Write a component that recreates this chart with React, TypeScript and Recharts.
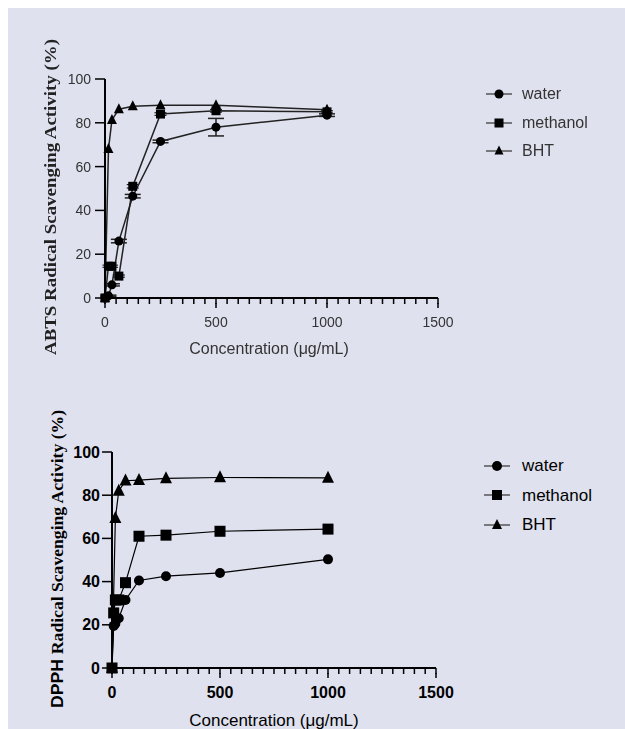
import React from 'react';
import { LineChart, Line, XAxis, YAxis, Legend, ErrorBar } from 'recharts';

// ---------- data ----------
const X_MAJOR = [0, 500, 1000, 1500];
const X_TICKS = [0, 50, 100, 150, 200, 250, 300, 350, 400, 450, 500, 550, 600, 650, 700, 750, 800, 850, 900, 950, 1000, 1050, 1100, 1150, 1200, 1250, 1300, 1350, 1400, 1450, 1500];
const Y_TICKS = [0, 20, 40, 60, 80, 100];
const SERIES_NAMES = ['water', 'methanol', 'BHT'];

// ABTS
const abtsConc = [0, 15.6, 31.25, 62.5, 125, 250, 500, 1000];
const abtsWater = [0, 1, 6, 26, 46.5, 71.5, 78, 83.5];
const abtsWaterErr = [0, 0.3, 0.5, 0.8, 0.8, 0.6, 4, 0.6];
const abtsMethanol = [0, 14.5, 14.5, 10, 51, 84, 85.5, 85];
const abtsMethanolErr = [0, 0.5, 0.5, 0.5, 0.8, 0.6, 0.6, 0.5];
const abtsBHT = [0, 68, 81.3, 86.2, 87.6, 88, 88, 86];

// DPPH
const dpphConc = [0, 7.8, 15.6, 31.25, 62.5, 125, 250, 500, 1000];
const dpphWater = [0, 19.5, 20.5, 23, 31.5, 40.5, 42.5, 44, 50.3];
const dpphMethanol = [0, 25.5, 31.5, 31.5, 39.5, 61, 61.5, 63.3, 64.3];
const dpphBHTConc = [0, 15.6, 31.25, 62.5, 125, 250, 500, 1000];
const dpphBHT = [0, 69.3, 82, 86.7, 87, 87.8, 88.2, 88];

const toRows = (xs: number[], ys: number[], errs?: number[]) =>
  xs.map((x, i) => (errs ? { x, y: ys[i], err: errs[i] } : { x, y: ys[i] }));

const abtsWaterData = toRows(abtsConc, abtsWater, abtsWaterErr);
const abtsMethanolData = toRows(abtsConc, abtsMethanol, abtsMethanolErr);
const abtsBHTData = toRows(abtsConc, abtsBHT);
const dpphWaterData = toRows(dpphConc, dpphWater);
const dpphMethanolData = toRows(dpphConc, dpphMethanol);
const dpphBHTData = toRows(dpphBHTConc, dpphBHT);

// ---------- markers ----------
const circleDot = (r: number) => (p: any) => {
  const { cx, cy, index } = p;
  if (cx == null || cy == null) return <g key={`c${index}`} />;
  return <circle key={`c${index}`} cx={cx} cy={cy} r={r} fill="#000" />;
};
const squareDot = (s: number) => (p: any) => {
  const { cx, cy, index } = p;
  if (cx == null || cy == null) return <g key={`s${index}`} />;
  return <rect key={`s${index}`} x={cx - s / 2} y={cy - s / 2} width={s} height={s} fill="#000" />;
};
const triDot = (s: number) => (p: any) => {
  const { cx, cy, index } = p;
  if (cx == null || cy == null) return <g key={`t${index}`} />;
  return (
    <polygon
      key={`t${index}`}
      points={`${cx},${cy - s * 0.6} ${cx - s / 2},${cy + s * 0.4} ${cx + s / 2},${cy + s * 0.4}`}
      fill="#000"
    />
  );
};

const MarkerIcon = ({ kind, size, lineColor }: { kind: number; size: number; lineColor: string }) => (
  <svg width={26} height={14} style={{ display: 'block' }}>
    <line x1={0} x2={26} y1={7} y2={7} stroke={lineColor} strokeWidth={1.5} />
    {kind === 0 && <circle cx={13} cy={7} r={size / 2} fill="#000" />}
    {kind === 1 && <rect x={13 - size / 2} y={7 - size / 2} width={size} height={size} fill="#000" />}
    {kind === 2 && (
      <polygon
        points={`13,${7 - size * 0.6} ${13 - size / 2},${7 + size * 0.4} ${13 + size / 2},${7 + size * 0.4}`}
        fill="#000"
      />
    )}
  </svg>
);

const makeLegend = (fontSize: number, color: string, rowH: number, gap: number, size: number) => () => (
  <div style={{ fontFamily: 'Liberation Sans, Arial, sans-serif' }}>
    {SERIES_NAMES.map((n, i) => (
      <div key={n} style={{ display: 'flex', alignItems: 'center', height: rowH }}>
        <MarkerIcon kind={i} size={size} lineColor="#555" />
        <span style={{ marginLeft: gap, fontSize, color, lineHeight: 1 }}>{n}</span>
      </div>
    ))}
  </div>
);

// tick lines of 6px come from the axis; majors get 4px more here, plus the label
const makeXTick = (labelDy: number, fontSize: number, fill: string, weight: string) => (p: any) => {
  const { x, y, payload } = p;
  const v = payload.value;
  const major = X_MAJOR.includes(v);
  if (!major) return <g />;
  return (
    <g>
      <line x1={x} x2={x} y1={y - 1} y2={y + 4} stroke="#000" strokeWidth={1.5} />
      <text
        x={x}
        y={y + labelDy}
        textAnchor="middle"
        dominantBaseline="central"
        fontSize={fontSize}
        fill={fill}
        fontWeight={weight}
        fontFamily="Liberation Sans, Arial, sans-serif"
      >
        {v}
      </text>
    </g>
  );
};

export default function App() {
  return (
    <div style={{ position: 'fixed', left: 8, top: 8, right: 0, bottom: 0, minWidth: 617, minHeight: 721, background: '#dfe1ee', overflow: 'hidden' }}>
      {/* ABTS chart */}
      <div style={{ position: 'absolute', left: 0, top: 0, filter: 'blur(0.4px)' }}>
        <LineChart width={617} height={360} margin={{ top: 71, right: 187, bottom: 0, left: 0 }}>
          <XAxis
            type="number"
            dataKey="x"
            domain={[0, 1500]}
            ticks={X_TICKS}
            interval={0}
            height={70}
            axisLine={{ stroke: '#000', strokeWidth: 2 }}
            tickLine={{ stroke: '#000', strokeWidth: 1.5 }}
            tickSize={6}
            tickMargin={0}
            tick={makeXTick(18, 14, '#333', 'normal')}
            label={{
              content: () => (
                <text x={261} y={340} textAnchor="middle" dominantBaseline="central" fontSize={16} fill="#333" fontFamily="Liberation Sans, Arial, sans-serif">
                  Concentration (μg/mL)
                </text>
              ),
            }}
          />
          <YAxis
            type="number"
            dataKey="y"
            domain={[0, 100]}
            ticks={Y_TICKS}
            interval={0}
            width={97}
            axisLine={{ stroke: '#000', strokeWidth: 2 }}
            tickLine={{ stroke: '#000', strokeWidth: 1.5 }}
            tickSize={10}
            tickMargin={4}
            tick={{ fontSize: 14, fill: '#333', fontFamily: 'Liberation Sans, Arial, sans-serif' }}
            label={{
              content: () => (
                <text
                  x={42}
                  y={189}
                  transform="rotate(-90 42 189)"
                  textAnchor="middle"
                  dominantBaseline="central"
                  fontSize={17}
                  fontWeight="bold"
                  fill="#222"
                  fontFamily="Liberation Serif, Times New Roman, serif"
                  textLength={316}
                  lengthAdjust="spacingAndGlyphs"
                >
                  ABTS Radical Scavenging Activity (%)
                </text>
              ),
            }}
          />
          <Legend
            layout="vertical"
            align="center"
            verticalAlign="middle"
            content={makeLegend(16, '#333', 28.5, 10, 9)}
            wrapperStyle={{ left: 478, top: 72, width: 130, height: 90 }}
          />
          <Line data={abtsWaterData} dataKey="y" name="water" stroke="#222" strokeWidth={1.5} dot={circleDot(4.5)} isAnimationActive={false}>
            <ErrorBar dataKey="err" width={8} stroke="#222" strokeWidth={1.5} direction="y" />
          </Line>
          <Line data={abtsMethanolData} dataKey="y" name="methanol" stroke="#222" strokeWidth={1.5} dot={squareDot(9)} isAnimationActive={false}>
            <ErrorBar dataKey="err" width={6} stroke="#222" strokeWidth={1.2} direction="y" />
          </Line>
          <Line data={abtsBHTData} dataKey="y" name="BHT" stroke="#222" strokeWidth={1.5} dot={triDot(10)} isAnimationActive={false} />
        </LineChart>
      </div>

      {/* DPPH chart */}
      <div style={{ position: 'absolute', left: 0, top: 360 }}>
        <LineChart width={617} height={361} margin={{ top: 84, right: 189, bottom: 0, left: 0 }}>
          <XAxis
            type="number"
            dataKey="x"
            domain={[0, 1500]}
            ticks={X_TICKS}
            interval={0}
            height={61}
            axisLine={{ stroke: '#000', strokeWidth: 2 }}
            tickLine={{ stroke: '#000', strokeWidth: 1.5 }}
            tickSize={6}
            tickMargin={0}
            tick={makeXTick(18, 16, '#000', 'bold')}
            label={{
              content: () => (
                <text x={266} y={352} textAnchor="middle" dominantBaseline="central" fontSize={17} fill="#000" fontFamily="Liberation Sans, Arial, sans-serif">
                  Concentration (μg/mL)
                </text>
              ),
            }}
          />
          <YAxis
            type="number"
            dataKey="y"
            domain={[0, 100]}
            ticks={Y_TICKS}
            interval={0}
            width={104}
            axisLine={{ stroke: '#000', strokeWidth: 2 }}
            tickLine={{ stroke: '#000', strokeWidth: 1.5 }}
            tickSize={10}
            tickMargin={2}
            tick={{ fontSize: 16, fontWeight: 'bold', fill: '#000', fontFamily: 'Liberation Sans, Arial, sans-serif' }}
            label={{
              content: () => (
                <text
                  x={49}
                  y={191}
                  transform="rotate(-90 49 191)"
                  textAnchor="middle"
                  dominantBaseline="central"
                  fontSize={17}
                  fontWeight="bold"
                  fill="#000"
                  fontFamily="Liberation Sans, Arial, sans-serif"
                  textLength={298}
                  lengthAdjust="spacingAndGlyphs"
                >
                  DPPH{' '}
                  <tspan fontFamily="Liberation Serif, Times New Roman, serif">Radical Scavenging Activity (%)</tspan>
                </text>
              ),
            }}
          />
          <Legend
            layout="vertical"
            align="center"
            verticalAlign="middle"
            content={makeLegend(17, '#000', 29.5, 12, 10)}
            wrapperStyle={{ left: 476, top: 83, width: 130, height: 90 }}
          />
          <Line data={dpphWaterData} dataKey="y" name="water" stroke="#000" strokeWidth={1.2} dot={circleDot(5)} isAnimationActive={false} />
          <Line data={dpphMethanolData} dataKey="y" name="methanol" stroke="#000" strokeWidth={1.2} dot={squareDot(11)} isAnimationActive={false} />
          <Line data={dpphBHTData} dataKey="y" name="BHT" stroke="#000" strokeWidth={1.2} dot={triDot(12)} isAnimationActive={false} />
        </LineChart>
      </div>
    </div>
  );
}
